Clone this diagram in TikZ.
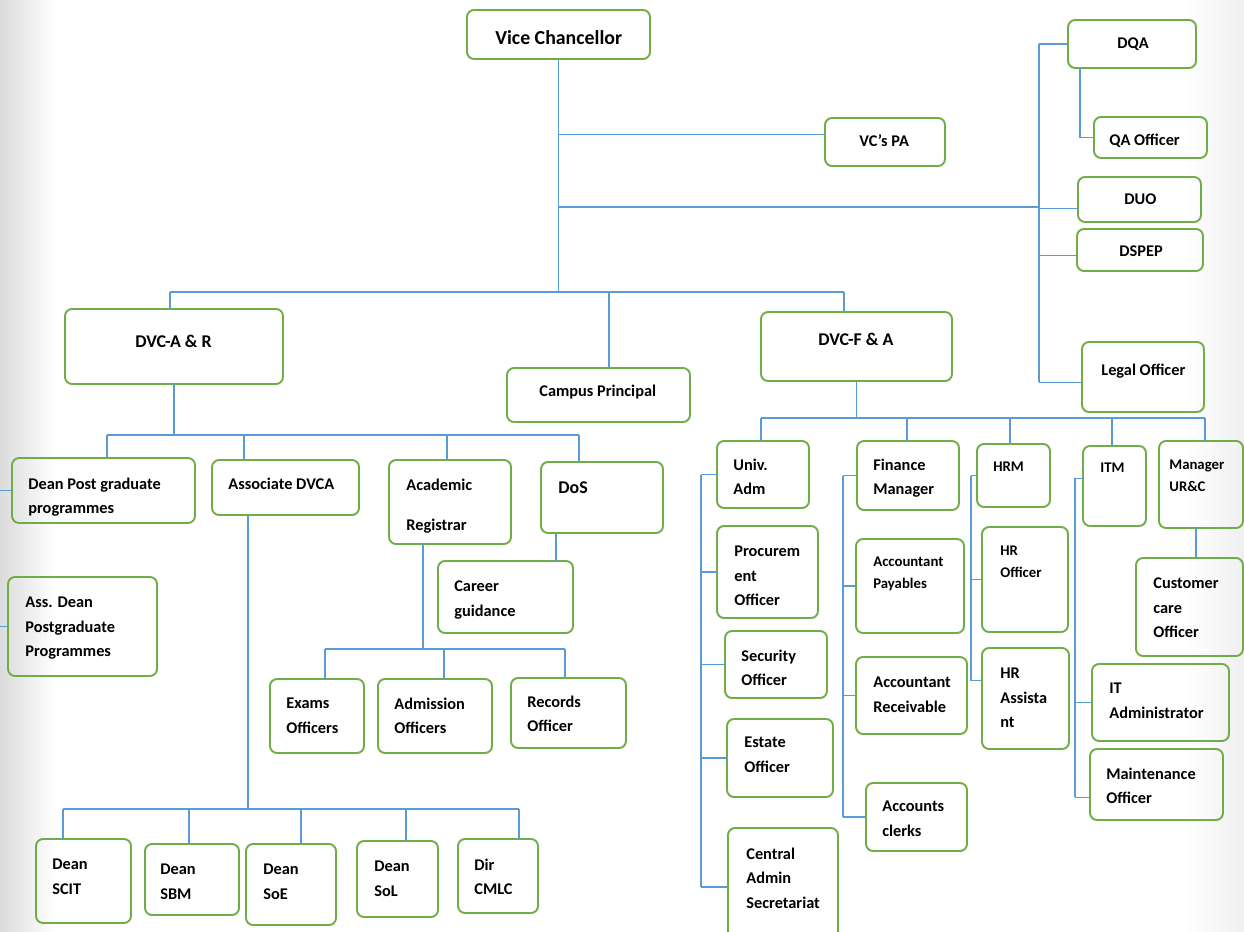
\documentclass[tikz,border=0pt]{standalone}
\usepackage{fontspec}
\setmainfont{Carlito}
\usetikzlibrary{calc}
\definecolor{boxgreen}{HTML}{70AD47}
\definecolor{lineblue}{HTML}{5B9BD5}
\tikzset{
 org box/.style={draw=boxgreen,line width=1.1pt,rounded corners=4pt,
                 inner sep=0pt,outer sep=0pt},
 org link/.style={draw=lineblue,line width=.6pt},
 org text/.style={anchor=north west,inner sep=0pt,align=left,yshift=3pt,
                  font=\bfseries\fontsize{9.3}{13.9}\selectfont},
 org small/.style={org text,font=\bfseries\fontsize{8.4}{12.4}\selectfont},
 org big/.style={org text,font=\bfseries\fontsize{10.2}{14}\selectfont},
 org huge/.style={org text,font=\bfseries\fontsize{11.3}{14}\selectfont}
}
\begin{document}
\begin{tikzpicture}[x=0.02cm,y=-0.02cm]
 \useasboundingbox (0,0) rectangle (1244,932);
 % page shadow
 \shade[left color=black!14,right color=white] (0,0) rectangle (55,932);
 \shade[left color=white,right color=black!6] (1185,0) rectangle (1244,932);
 % boxes
 \foreach \n/\xa/\ya/\xb/\yb in {vc/467/10/650/59,pa/825/118/945/166,
   dqa/1068/20/1196/68,qa/1094/117/1207/158,duo/1078/177/1201/222,
   dspep/1077/229/1203/271,legal/1082/342/1204/412,
   dvca/65/309/283/384,cp/507/368/690/422,dvcf/761/312/952/381,
   dpg/12/458/195/523,asd/8/577/157/676,adv/212/460/359/515,
   ar/389/460/511/544,dos/541/462/663/533,cg/438/561/573/633,
   exo/270/679/364/753,ado/378/679/492/753,reco/511/678/626/748,
   scit/36/839/131/923,sbm/145/844/239/915,soe/246/844/336/925,
   sol/357/841/438/917,cmlc/458/839/538/913,
   uad/717/441/809/508,pro/717/526/818/618,sec/725/631/827/698,
   est/727/719/833/797,cas/728/828/838/946,
   fin/857/441/959/510,acp/856/539/964/633,acr/856/657/967/734,
   acc/866/783/967/851,hrm/977/444/1050/507,hro/982/527/1068/632,
   hra/982/648/1069/749,itm/1083/446/1146/526,ita/1092/664/1229/741,
   mto/1090/749/1223/820,mur/1159/441/1243/528,cco/1136/558/1243/656}
   \node[org box,minimum width={0.02cm*(\xb-\xa)},
         minimum height={0.02cm*(\yb-\ya)}]
     (\n) at ({(\xa+\xb)/2},{(\ya+\yb)/2}) {};
 % labels
 \foreach \n/\x/\y/\st/\txt in {vc/495/35/huge/{Vice Chancellor},
   pa/859/140/text/{VC’s PA},dqa/1117/43/text/{DQA},
   qa/1109/139/text/{QA Officer},duo/1124/199/text/{DUO},
   dspep/1119/251/text/{DSPEP},legal/1101/369/text/{Legal Officer},
   dvca/135/340/big/{DVC-A \& R},cp/539/390/text/{Campus Principal},
   dvcf/818/338/big/{DVC-F \& A},
   dpg/28/483/text/{Dean Post graduate\\programmes},
   asd/25/602/text/{Ass. Dean\\Postgraduate\\Programmes},
   adv/228/483/text/{Associate DVCA},
   ar/406/484/text/{Academic\\[9pt]Registrar},
   dos/558/487/big/{DoS},cg/454/586/text/{Career\\guidance},
   exo/286/703/text/{Exams\\Officers},ado/394/703/text/{Admission\\Officers},
   reco/527/701/text/{Records\\Officer},
   scit/52/864/text/{Dean\\SCIT},sbm/160/869/text/{Dean\\SBM},
   soe/263/869/text/{Dean\\SoE},sol/374/866/text/{Dean\\SoL},
   cmlc/474/864/text/{Dir\\CMLC},
   uad/733/464/text/{Univ.\\Adm},pro/734/551/text/{Procurem\\ent\\Officer},
   sec/741/655/text/{Security\\Officer},est/744/742/text/{Estate\\Officer},
   cas/746/853/text/{Central\\Admin\\Secretariat},
   fin/873/464/text/{Finance\\Manager},
   acp/873/562/small/{Accountant\\Payables},
   acr/873/682/text/{Accountant\\Receivable},
   acc/882/806/text/{Accounts\\clerks},
   hrm/993/467/small/{HRM},hro/1000/551/small/{HR\\Officer},
   hra/1000/673/text/{HR\\Assista\\nt},
   itm/1100/468/small/{ITM},ita/1109/688/text/{IT\\Administrator},
   mto/1106/773/text/{Maintenance\\Officer},
   mur/1169/465/small/{Manager\\UR\&C},
   cco/1153/583/text/{Customer\\care\\Officer}}
   \node[org \st] (\n-t) at (\x,\y) {\txt};
 % top level
 \coordinate (bl) at (170,292);
 \coordinate (br) at (844,292);
 \coordinate (bcp) at (609,292);
 \coordinate (rb) at (1039,0);
 \draw[org link] (vc.south) -- (vc.south |- bl);
 \draw[org link] (vc.south |- pa.173) -- (pa.173);
 \draw[org link] (vc.south |- 0,207) -- (rb |- 0,207);
 \draw[org link] (bl) -- (br);
 \draw[org link] (bl) -- (bl |- dvca.north);
 \draw[org link] (bcp) -- (bcp |- cp.north);
 \draw[org link] (br) -- (br |- dvcf.north);
 % right column
 \draw[org link] (rb |- dqa.west) -- (rb |- legal.185);
 \foreach \n in {dqa.west,duo.188,dspep.185,legal.185}
   \draw[org link] (rb |- \n) -- (\n);
 \draw[org link] ($(dqa.south west)+(12,0)$) |- (qa.west);
 % DVC-A & R
 \draw[org link] (dvca.south) -- (dvca.south |- 0,435);
 \draw[org link] (107,435) -- (579,435);
 \foreach \x/\n in {107/dpg,244/adv,447/ar,579/dos}
   \draw[org link] (\x,435) -- (\x,0 |- \n.north);
 \draw[org link] (dpg.west) -- (dpg.west -| 0,0);
 \draw[org link] (asd.west) -- (asd.west -| 0,0);
 \draw[org link] (248,0 |- adv.south) -- (248,809);
 \draw[org link] (63,809) -- (519,809);
 \foreach \x/\n in {63/scit,189/sbm,301/soe,406/sol,519/cmlc}
   \draw[org link] (\x,809) -- (\x,0 |- \n.north);
 \draw[org link] (423,0 |- ar.south) -- (423,649);
 \draw[org link] (325,649) -- (565,649);
 \foreach \x/\n in {325/exo,444/ado,565/reco}
   \draw[org link] (\x,649) -- (\x,0 |- \n.north);
 \draw[org link] (556,0 |- dos.south) -- (556,0 |- cg.north);
 % DVC-F & A
 \draw[org link] (dvcf.south) -- (dvcf.south |- 0,418);
 \draw[org link] (761,418) -- (1205,418);
 \foreach \x/\n in {761/uad,907/fin,1010/hrm,1112/itm,1205/mur}
   \draw[org link] (\x,418) -- (\x,0 |- \n.north);
 \foreach \x/\a/\z/\l in {701/uad.west/cas.west/{uad.west,pro.west,sec.west,est.west,cas.west},
   843/fin.west/acc.west/{fin.west,acp.west,acr.west,acc.west},
   971/hrm.west/hra.158/{hrm.west,hro.west,hra.158},
   1075/itm.166/mto.191/{itm.166,ita.west,mto.191}}{
   \draw[org link] (\x,0 |- \a) -- (\x,0 |- \z);
   \foreach \n in \l \draw[org link] (\x,0 |- \n) -- (\n);
 }
 \draw[org link] (1196,0 |- mur.south) -- (1196,0 |- cco.north);
\end{tikzpicture}
\end{document}
